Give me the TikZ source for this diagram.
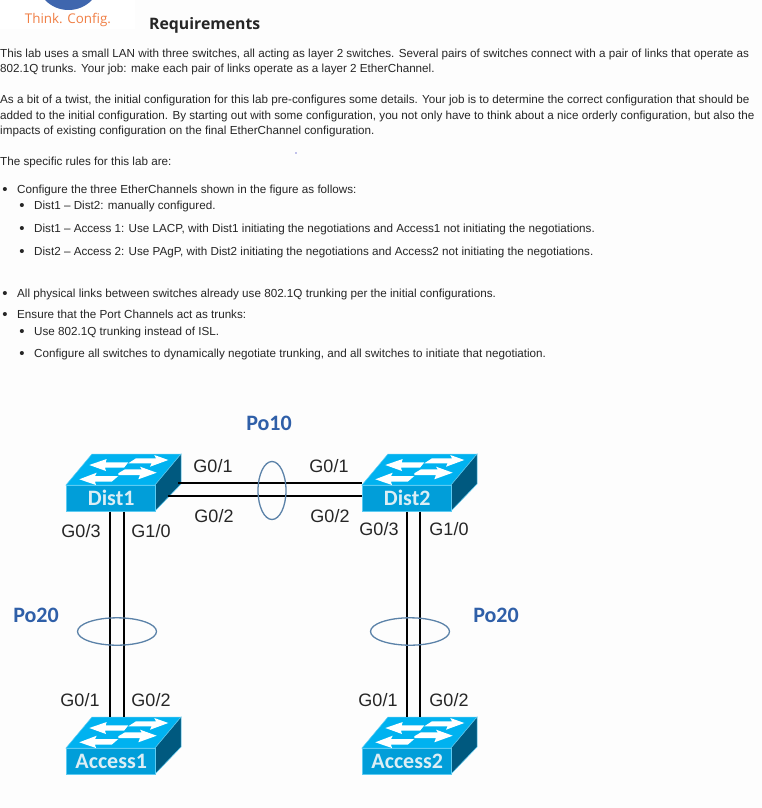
\documentclass[tikz,border=0pt]{standalone}
\usepackage{fontspec}
\setmainfont{Liberation Sans}
\newfontfamily\calib{Carlito}
\newfontfamily\opens{Open Sans}
\definecolor{swtop}{HTML}{00B2F0}
\definecolor{swfront}{HTML}{019ED9}
\definecolor{swside}{HTML}{00597F}
\definecolor{swedge}{HTML}{5CCBF2}
\definecolor{swtext}{HTML}{DCEEF5}
\definecolor{ebl}{HTML}{5B82A8}
\definecolor{pob}{HTML}{2F5FA8}
\definecolor{txt}{HTML}{262626}
\definecolor{logoor}{HTML}{F07F45}
\definecolor{logobl}{HTML}{3F66AE}
\definecolor{pagebg}{HTML}{FDFDFD}
\tikzset{
  x=1pt,y=-1pt,
  para/.style={anchor=base west,inner sep=0pt,text=txt,font=\fontsize{11.67}{14}\selectfont},
  bul/.style={anchor=base,inner sep=0pt,text=txt,font=\fontsize{15}{16}\selectfont},
  port/.style={anchor=base,inner sep=0pt,text=txt,font=\fontsize{18}{20}\selectfont},
  po/.style={anchor=base,inner sep=0pt,text=pob,font=\calib\bfseries\fontsize{22}{24}\selectfont},
  swname/.style={inner sep=0pt,text=swtext,minimum width=89pt,minimum height=26pt,font=\calib\bfseries\fontsize{22}{24}\selectfont},
  link/.style={draw=black,line width=1.6pt},
  channel/.style={draw=ebl,line width=1.3pt},
  swarrow/.style={fill=white,draw=none},
}
% \swicon{name}{x of front left}{y of front top}{label}
\newcommand{\swicon}[4]{%
  \begin{scope}[shift={(#2,#3)}]
    \fill[swtop,draw=swedge,line width=.5pt] (0,0) -- (26,-31) -- (115,-31) -- (89,0) -- cycle;
    \fill[swside,draw=swedge,line width=.5pt] (89,0) -- (115,-31) -- (115,-1) -- (89,26) -- cycle;
    \node[swname,fill=swfront,draw=swedge,line width=.5pt,anchor=north west] (#1) at (0,0) {\hspace{1pt}#4};
    \coordinate (#1back) at (26,-31);
    \coordinate (#1upper) at (112,-2);
    \coordinate (#1lower) at (102,11);
    \fill[swarrow] (62.3,-21.7) -- (70,-26.7) -- (90,-26.7) -- (88.3,-30) -- (102.3,-25) -- (84,-18.3) -- (85.7,-21.7) -- cycle;
    \fill[swarrow] (23.3,-20) -- (40.7,-26) -- (39.7,-22.7) -- (62.3,-22.7) -- (58,-17.3) -- (39,-17.3) -- (40,-14) -- cycle;
    \fill[swarrow] (52.3,-11.7) -- (59,-15.7) -- (75.7,-15.7) -- (74,-18.3) -- (90.7,-12.3) -- (72.3,-5.7) -- (74,-10) -- (52.3,-10) -- cycle;
    \fill[swarrow] (13.3,-5.7) -- (30.7,-12.3) -- (29,-9) -- (52.3,-9) -- (45.7,-3.3) -- (29,-3.3) -- (30,0) -- cycle;
  \end{scope}}
\begin{document}
\begin{tikzpicture}
\path[use as bounding box,fill=pagebg] (0,0) rectangle (762,808);
\fill[white] (0,0) rectangle (135,29);
\begin{scope}
  \clip (0,0) rectangle (135,29);
  \fill[logobl] (68.5,-22.6) circle (32.6);
\end{scope}
\node[anchor=base,inner sep=0pt,text=logoor,font=\opens\fontsize{13.4}{16}\selectfont] (logo) at (68,24) {Think. Config.};
\node[anchor=base west,inner sep=0pt,text=txt,font=\opens\bfseries\fontsize{15.8}{18}\selectfont] (req) at (149,30) {Requirements};

\node[para] (l1) at (0,58) {This lab uses a small LAN with three switches, all acting as layer 2 switches. Several pairs of switches connect with a pair of links that operate as};
\node[para] (l2) at (0,73) {802.1Q trunks. Your job: make each pair of links operate as a layer 2 EtherChannel.};
\node[para] (l3) at (0,103) {As a bit of a twist, the initial configuration for this lab pre-configures some details. Your job is to determine the correct configuration that should be};
\node[para] (l4) at (0,119) {added to the initial configuration. By starting out with some configuration, you not only have to think about a nice orderly configuration, but also the};
\node[para] (l5) at (0,134) {impacts of existing configuration on the final EtherChannel configuration.};
\node[para] (l6) at (0,165) {The specific rules for this lab are:};
\fill[blue!70!black] (296,153) circle (.7);

\node[bul] (b1) at (5,194) {•};
\node[para] (t1) at (17,193) {Configure the three EtherChannels shown in the figure as follows:};
\node[bul] (b2) at (22,210) {•};
\node[para] (t2) at (34,209) {Dist1 – Dist2: manually configured.};
\node[bul] (b3) at (22,233) {•};
\node[para] (t3) at (34,232) {Dist1 – Access 1: Use LACP, with Dist1 initiating the negotiations and Access1 not initiating the negotiations.};
\node[bul] (b4) at (22,256) {•};
\node[para] (t4) at (34,255) {Dist2 – Access 2: Use PAgP, with Dist2 initiating the negotiations and Access2 not initiating the negotiations.};
\node[bul] (b5) at (5,298) {•};
\node[para] (t5) at (17,297) {All physical links between switches already use 802.1Q trunking per the initial configurations.};
\node[bul] (b6) at (5,319) {•};
\node[para] (t6) at (17,318) {Ensure that the Port Channels act as trunks:};
\node[bul] (b7) at (22,336) {•};
\node[para] (t7) at (34,335) {Use 802.1Q trunking instead of ISL.};
\node[bul] (b8) at (22,358) {•};
\node[para] (t8) at (34,357) {Configure all switches to dynamically negotiate trunking, and all switches to initiate that negotiation.};

\swicon{Dist1}{66}{485}{Dist1}
\swicon{Dist2}{362}{485}{Dist2}
\swicon{Access1}{66}{748}{Access1}
\swicon{Access2}{362}{748}{Access2}

\draw[link] (Dist1upper) -- (Dist1upper -| Dist2.west);
\draw[link] (Dist1lower) -- (Dist1lower -| Dist2.west);
\foreach \s/\t/\dx in {Dist1/Access1/-0.5,Dist1/Access1/13.5,Dist2/Access2/0.5,Dist2/Access2/13.5}{
  \draw[link] ([xshift=\dx pt]\s.south) -- ([xshift=\dx pt]\s.south |- \t back);
}

\draw[channel] (272,490.5) ellipse (14 and 29);
\draw[channel] (117,631.5) ellipse (39.5 and 13.7);
\draw[channel] (410,631.5) ellipse (39.5 and 13.7);

\node[po] (po10) at (269,430) {Po10};
\node[po] (po20l) at (36,622) {Po20};
\node[po] (po20r) at (496,622) {Po20};

\node[port] (p1) at (213,472) {G0/1};
\node[port] (p2) at (214,522) {G0/2};
\node[port] (p3) at (81,537) {G0/3};
\node[port] (p4) at (151,537) {G1/0};
\node[port] (p5) at (329,472) {G0/1};
\node[port] (p6) at (330,522) {G0/2};
\node[port] (p7) at (379,535) {G0/3};
\node[port] (p8) at (449,535) {G1/0};
\node[port] (p9) at (80,706) {G0/1};
\node[port] (p10) at (151,706) {G0/2};
\node[port] (p11) at (378,706) {G0/1};
\node[port] (p12) at (449,706) {G0/2};
\end{tikzpicture}
\end{document}
